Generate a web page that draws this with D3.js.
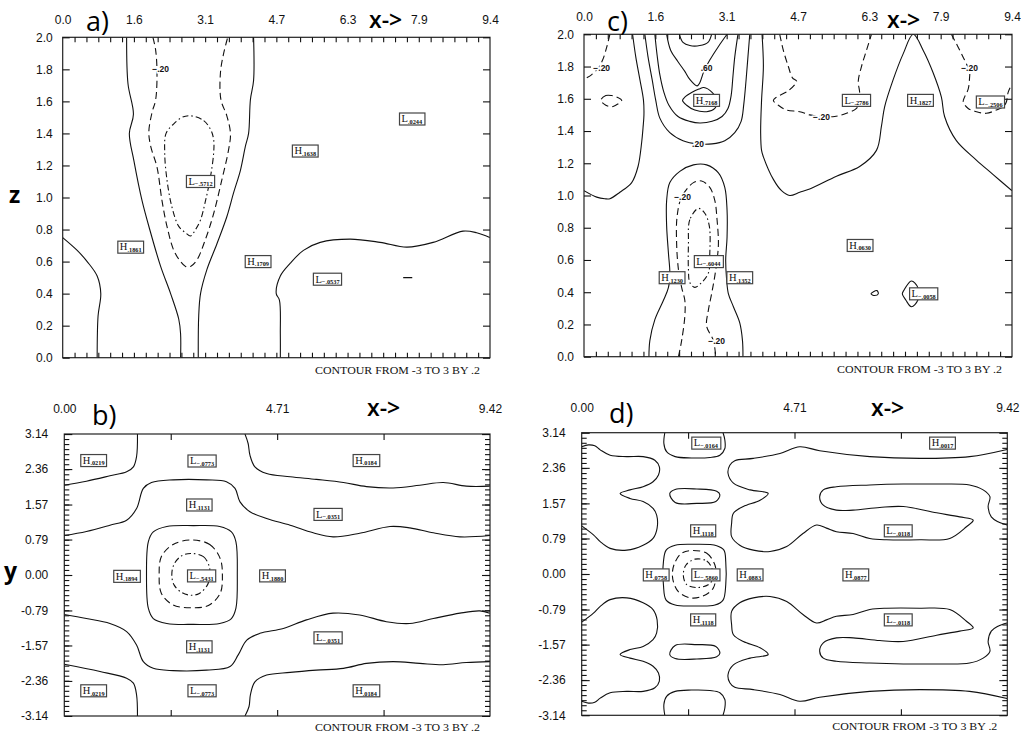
<!DOCTYPE html>
<html>
<head>
<meta charset="utf-8">
<script src="https://cdn.jsdelivr.net/npm/d3@7"></script>
<style>
  body { margin: 0; background: #fff; }
  svg { display: block; }
  .big { font-family: "Open Sans", sans-serif; fill: #000; }
  .footer { font-family: "Liberation Serif", serif; font-size: 10.5px; fill: #111; }
  .frame { fill: none; stroke: #222; stroke-width: 1.2; }
  .contour { fill: none; stroke: #111; stroke-width: 1.1; }
  .ext { font-family: "Liberation Serif", serif; fill: #111; }
  .ext-box { fill: #fff; stroke: #444; stroke-width: 1.2; }
  .line-label { font-family: "Liberation Sans", Arial, sans-serif; font-size: 8.5px; font-weight: bold; fill: #111;
                stroke: #fff; stroke-width: 3px; paint-order: stroke; }
</style>
</head>
<body>
<script>
"use strict";

/**
 * Four contour panels: a) and c) are x-z sections, b) and d) are x-y sections.
 * Contours are polylines, in data units.
 */

// ---- tick labels ----
const xzTickLabels = ["0.0", "1.6", "3.1", "4.7", "6.3", "7.9", "9.4"]
const xzTickValues = [0, 1.5708, 3.1416, 4.7124, 6.2832, 7.854, 9.4248]
const zTickLabels = ["0.0", "0.2", "0.4", "0.6", "0.8", "1.0", "1.2", "1.4", "1.6", "1.8", "2.0"]
const xyTickLabels = ["0.00", "4.71", "9.42"]
const xyTickValues = [0, 4.7124, 9.4248]
const yTickLabels = ["3.14", "2.36", "1.57", "0.79", "0.00", "-0.79", "-1.57", "-2.36", "-3.14"]
const footerText = "CONTOUR FROM -3 TO 3 BY .2"

// ---- panel a) ----
const panelAContours = [
  {level: 0, pts: [[0,0.75],[0.32,0.67],[0.54,0.60],[0.76,0.51],[0.84,0.40],[0.78,0.26],[0.76,0]]},
  {level: 0, pts: [[1.41,2.0],[1.44,1.71],[1.56,1.52],[1.47,1.40],[1.57,1.23],[1.75,0.98],[1.94,0.78],[2.16,0.57],[2.38,0.40],[2.56,0.24],[2.60,0.15],[2.60,0]]},
  {level: 0, pts: [[4.21,2.0],[4.21,1.73],[4.14,1.61],[4.10,1.40],[4.03,1.32],[3.92,1.17],[3.77,1.03],[3.62,0.88],[3.40,0.71],[3.18,0.55],[3.04,0.40],[3.00,0.26],[2.99,0]]},
  {level: 0, pts: [[4.80,0],[4.80,0.15],[4.78,0.36],[4.71,0.40],[4.80,0.51],[5.02,0.59],[5.31,0.67],[5.68,0.72],[6.34,0.74],[7.00,0.72],[7.59,0.69],[8.17,0.72],[8.83,0.79],[9.13,0.78],[9.42,0.75]]},
  {level: 0, pts: [[7.51,0.50],[7.71,0.50]]},
  {level: -0.2, pts: [[1.99,2.0],[2.05,1.92],[2.08,1.78],[2.05,1.61],[1.97,1.53],[1.90,1.41],[1.94,1.32],[2.08,1.19],[2.19,0.98],[2.30,0.82],[2.45,0.67],[2.60,0.60],[2.71,0.57],[2.82,0.57],[2.96,0.61],[3.15,0.74],[3.33,0.90],[3.51,1.11],[3.66,1.30],[3.70,1.40],[3.62,1.51],[3.49,1.61],[3.48,1.78],[3.55,1.90],[3.64,2.0]]},
  {level: -0.4, closed: true, pts: [[2.82,1.51],[3.11,1.48],[3.27,1.42],[3.33,1.36],[3.33,1.28],[3.26,1.13],[3.15,0.98],[3.04,0.86],[2.93,0.80],[2.82,0.76],[2.71,0.78],[2.56,0.82],[2.41,0.94],[2.30,1.11],[2.25,1.28],[2.28,1.40],[2.45,1.46],[2.63,1.50]]}
]
const panelAExtrema = [
  {kind: "L", val: ".0244", x: 7.70, y: 1.49},
  {kind: "H", val: ".1638", x: 5.35, y: 1.29},
  {kind: "L", val: "\u2212.5712", x: 3.04, y: 1.10},
  {kind: "H", val: ".1861", x: 1.50, y: 0.69},
  {kind: "H", val: ".1709", x: 4.31, y: 0.60},
  {kind: "L", val: "\u2212.0537", x: 5.84, y: 0.49}
]
const panelALineLabels = [{text: "\u2212.20", x: 2.16, y: 1.80}]

// ---- panel c) ----
const panelCContours = [
  {level: 0, pts: [[1.07,2.0],[1.14,1.86],[1.23,1.72],[1.31,1.59],[1.32,1.50],[1.30,1.42],[1.27,1.33],[1.19,1.18],[1.05,1.08],[0.79,1.02],[0.57,0.98],[0.46,0.98],[0.28,0.99],[0,1.03]]},
  {level: 0.2, pts: [[1.34,2.0],[1.41,1.86],[1.50,1.72],[1.58,1.59],[1.67,1.48],[1.89,1.39],[2.18,1.34],[2.51,1.32],[2.82,1.32],[3.10,1.34],[3.32,1.39],[3.46,1.46],[3.52,1.57],[3.57,1.72],[3.61,1.86],[3.65,2.0]]},
  {level: 0.4, pts: [[1.56,2.0],[1.61,1.87],[1.67,1.75],[1.76,1.64],[1.87,1.56],[2.07,1.49],[2.33,1.46],[2.55,1.45],[2.82,1.46],[3.04,1.49],[3.17,1.54],[3.24,1.62],[3.28,1.74],[3.32,1.86],[3.39,2.0]]},
  {level: 0.6, pts: [[1.82,2.0],[1.91,1.90],[2.07,1.83],[2.22,1.77],[2.33,1.72],[2.49,1.68],[2.55,1.70],[2.64,1.77],[2.77,1.84],[2.95,1.92],[3.15,2.0]]},
  {level: 0.6, closed: true, pts: [[2.53,1.66],[2.38,1.64],[2.22,1.61],[2.17,1.59],[2.26,1.56],[2.44,1.53],[2.70,1.52],[2.88,1.54],[2.93,1.59],[2.82,1.64],[2.64,1.67]]},
  {level: 0.8, pts: [[2.10,2.0],[2.18,1.95],[2.33,1.93],[2.55,1.93],[2.73,1.95],[2.81,2.0]]},
  {level: 0, pts: [[3.92,2.0],[3.95,1.80],[3.91,1.59],[3.89,1.39],[3.91,1.28],[3.95,1.24],[4.17,1.10],[4.35,1.03],[4.53,1.00],[4.75,1.02],[4.97,1.04],[5.56,1.12],[6.07,1.18],[6.44,1.28],[6.55,1.43],[6.62,1.55],[6.81,1.72],[7.03,1.88],[7.25,2.0],[7.47,1.90],[7.69,1.76],[7.87,1.61],[7.94,1.49],[8.20,1.34],[8.64,1.22],[9.01,1.13],[9.42,1.03]]},
  {level: -0.2, pts: [[0.57,2.0],[0.50,1.92],[0.41,1.84],[0.31,1.79],[0.17,1.75],[0,1.72]]},
  {level: -0.2, closed: true, pts: [[0.37,1.59],[0.48,1.62],[0.61,1.62],[0.73,1.61],[0.83,1.59],[0.70,1.56],[0.61,1.55],[0.48,1.56]]},
  {level: -0.2, pts: [[4.31,2.0],[4.39,1.90],[4.50,1.80],[4.59,1.73],[4.68,1.71],[4.50,1.65],[4.24,1.61],[4.17,1.59],[4.28,1.56],[4.46,1.53],[4.75,1.52],[4.97,1.50],[5.23,1.49],[5.52,1.49],[5.78,1.51],[6.00,1.54],[6.07,1.59],[6.07,1.64],[6.04,1.71],[6.11,1.80],[6.22,1.90],[6.33,2.0]]},
  {level: -0.2, pts: [[8.09,2.0],[8.24,1.92],[8.38,1.84],[8.49,1.77],[8.49,1.73],[8.46,1.66],[8.38,1.61],[8.35,1.58],[8.46,1.54],[8.64,1.52],[8.86,1.51],[9.08,1.53],[9.23,1.55],[9.30,1.58],[9.34,1.64],[9.42,1.69]]},
  {level: 0, pts: [[1.43,0],[1.45,0.10],[1.56,0.23],[1.75,0.35],[1.86,0.43],[1.89,0.52],[1.86,0.64],[1.82,0.81],[1.82,0.97],[1.89,1.08],[2.11,1.15],[2.41,1.19],[2.70,1.19],[2.96,1.14],[3.10,1.05],[3.15,0.91],[3.15,0.74],[3.12,0.60],[3.14,0.48],[3.18,0.39],[3.29,0.31],[3.43,0.21],[3.49,0.10],[3.50,0]]},
  {level: -0.2, pts: [[2.08,0],[2.15,0.10],[2.22,0.25],[2.22,0.35],[2.15,0.43],[2.08,0.54],[2.04,0.70],[2.05,0.87],[2.15,0.99],[2.41,1.08],[2.59,1.09],[2.77,1.05],[2.88,0.97],[2.93,0.85],[2.96,0.70],[2.93,0.60],[2.88,0.50],[2.81,0.39],[2.74,0.29],[2.70,0.19],[2.85,0.10],[2.90,0]]},
  {level: -0.4, closed: true, pts: [[2.52,0.92],[2.33,0.85],[2.30,0.70],[2.30,0.54],[2.33,0.46],[2.44,0.43],[2.59,0.46],[2.74,0.52],[2.77,0.64],[2.76,0.81],[2.66,0.89]]},
  {level: 0, closed: true, pts: [[7.21,0.47],[7.04,0.41],[7.01,0.39],[7.09,0.35],[7.21,0.31],[7.35,0.35],[7.35,0.43]]},
  {level: 0, closed: true, pts: [[6.32,0.39],[6.45,0.41],[6.48,0.39],[6.40,0.38]]}
]
const panelCExtrema = [
  {kind: "H", val: ".7168", x: 2.70, y: 1.59},
  {kind: "L", val: "\u2212.2786", x: 6.00, y: 1.59},
  {kind: "H", val: ".1827", x: 7.41, y: 1.59},
  {kind: "L", val: "\u2212.2506", x: 8.95, y: 1.58},
  {kind: "L", val: "\u2212.6044", x: 2.74, y: 0.59},
  {kind: "H", val: ".1230", x: 1.94, y: 0.49},
  {kind: "H", val: ".1352", x: 3.43, y: 0.49},
  {kind: "H", val: ".0630", x: 6.08, y: 0.69},
  {kind: "L", val: "\u2212.0058", x: 7.48, y: 0.39}
]
const panelCLineLabels = [
  {text: "\u2212.20", x: 0.39, y: 1.79},
  {text: ".60", x: 2.70, y: 1.79},
  {text: ".20", x: 2.51, y: 1.32},
  {text: "\u2212.20", x: 5.23, y: 1.49},
  {text: "\u2212.20", x: 8.49, y: 1.79},
  {text: "\u2212.20", x: 2.17, y: 0.99},
  {text: "\u2212.20", x: 2.92, y: 0.10}
]

// ---- panel b) ----
const panelBContours = [
  {level: 0, pts: [[1.62,3.14],[1.60,2.64],[1.53,2.41],[1.38,2.30],[1.01,2.21],[0.49,2.09],[0,2.0]]},
  {level: 0, pts: [[4.00,3.14],[4.07,2.93],[4.11,2.67],[4.22,2.41],[4.48,2.26],[5.00,2.19],[5.58,2.13],[6.18,2.06],[6.69,1.97],[7.28,1.94],[7.87,2.00],[8.39,2.06],[8.90,1.98],[9.42,1.98]]},
  {level: 0, pts: [[0,0.88],[0.49,0.97],[1.01,1.11],[1.38,1.22],[1.60,1.48],[1.75,1.93],[1.93,2.06],[2.41,2.12],[3.15,2.12],[3.59,2.08],[3.78,1.93],[3.89,1.63],[4.11,1.41],[4.48,1.26],[5.00,1.11],[5.51,0.94],[5.95,0.85],[6.54,0.93],[7.21,1.08],[7.65,1.05],[8.17,0.94],[8.76,0.85],[9.42,0.88]]},
  {level: 0, pts: [[0,-0.88],[0.49,-0.97],[1.01,-1.08],[1.38,-1.26],[1.60,-1.56],[1.75,-1.93],[1.97,-2.08],[2.41,-2.13],[3.15,-2.12],[3.67,-2.04],[3.85,-1.78],[4.04,-1.45],[4.33,-1.30],[4.85,-1.19],[5.36,-1.00],[5.95,-0.85],[6.54,-0.89],[7.13,-1.04],[7.65,-1.08],[8.17,-0.97],[8.76,-0.85],[9.20,-0.80],[9.42,-0.85]]},
  {level: 0, pts: [[1.62,-3.14],[1.60,-2.67],[1.53,-2.41],[1.38,-2.30],[0.79,-2.15],[0,-1.99]]},
  {level: 0, pts: [[4.00,-3.14],[4.09,-2.93],[4.12,-2.67],[4.22,-2.38],[4.48,-2.23],[5.00,-2.17],[5.58,-2.12],[6.18,-2.08],[6.69,-1.97],[7.28,-1.93],[7.87,-1.97],[8.39,-2.00],[8.90,-1.95],[9.42,-1.93]]},
  {level: 0, closed: true, pts: [[2.86,1.10],[3.44,1.08],[3.70,0.96],[3.80,0.74],[3.83,0],[3.80,-0.74],[3.70,-0.97],[3.44,-1.08],[2.86,-1.10],[2.27,-1.08],[1.97,-0.97],[1.86,-0.74],[1.82,0],[1.86,0.74],[1.97,0.96],[2.27,1.08]]},
  {level: -0.2, closed: true, pts: [[2.82,0.78],[3.22,0.68],[3.45,0.37],[3.50,0],[3.45,-0.41],[3.19,-0.68],[2.82,-0.73],[2.41,-0.67],[2.15,-0.41],[2.10,0],[2.15,0.41],[2.41,0.68]]},
  {level: -0.4, closed: true, pts: [[2.80,0.48],[3.08,0.41],[3.21,0.19],[3.22,0],[3.17,-0.22],[2.99,-0.41],[2.80,-0.45],[2.60,-0.39],[2.43,-0.22],[2.38,0],[2.43,0.24],[2.60,0.43]]}
]
const panelBExtrema = [
  {kind: "H", val: ".0219", x: 0.65, y: 2.55},
  {kind: "L", val: "\u2212.0773", x: 3.05, y: 2.54},
  {kind: "H", val: ".0184", x: 6.68, y: 2.55},
  {kind: "H", val: ".1131", x: 2.99, y: 1.56},
  {kind: "L", val: "\u2212.0351", x: 5.84, y: 1.35},
  {kind: "H", val: ".1894", x: 1.38, y: -0.03},
  {kind: "L", val: "\u2212.5431", x: 3.04, y: -0.02},
  {kind: "H", val: ".1880", x: 4.61, y: -0.02},
  {kind: "L", val: "\u2212.0351", x: 5.84, y: -1.40},
  {kind: "H", val: ".1131", x: 2.99, y: -1.60},
  {kind: "H", val: ".0219", x: 0.65, y: -2.58},
  {kind: "L", val: "\u2212.0773", x: 3.05, y: -2.58},
  {kind: "H", val: ".0184", x: 6.68, y: -2.58}
]

// ---- panel d) ----
const panelDContours = [
  {level: 0, pts: [[0,2.83],[0.15,2.87],[0.29,2.85],[0.41,2.76],[0.63,2.64],[1.00,2.61],[1.36,2.61],[1.62,2.53],[1.72,2.38],[1.70,2.20],[1.58,2.05],[1.36,1.94],[1.07,1.87],[0.85,1.79],[1.07,1.68],[1.36,1.61],[1.58,1.46],[1.66,1.31],[1.67,1.02],[1.58,0.79],[1.36,0.64],[1.00,0.53],[0.63,0.57],[0.41,0.72],[0.26,0.87],[0,1.07]]},
  {level: 0, pts: [[0,-2.83],[0.15,-2.87],[0.29,-2.85],[0.41,-2.76],[0.63,-2.64],[1.00,-2.61],[1.36,-2.61],[1.62,-2.53],[1.72,-2.38],[1.70,-2.20],[1.58,-2.05],[1.36,-1.94],[1.07,-1.87],[0.85,-1.79],[1.07,-1.68],[1.36,-1.61],[1.58,-1.46],[1.66,-1.31],[1.67,-1.02],[1.58,-0.79],[1.36,-0.64],[1.00,-0.53],[0.63,-0.57],[0.41,-0.72],[0.26,-0.87],[0,-1.07]]},
  {level: 0, pts: [[1.84,3.14],[1.82,2.90],[1.88,2.72],[2.07,2.61],[2.43,2.58],[2.84,2.59],[3.06,2.64],[3.17,2.79],[3.17,2.98],[3.13,3.14]]},
  {level: 0, pts: [[1.84,-3.14],[1.82,-2.90],[1.88,-2.72],[2.07,-2.61],[2.43,-2.58],[2.84,-2.59],[3.06,-2.64],[3.17,-2.79],[3.17,-2.98],[3.13,-3.14]]},
  {level: 0, closed: true, pts: [[1.95,1.79],[2.07,1.88],[2.55,1.89],[2.99,1.84],[3.06,1.76],[2.97,1.61],[2.55,1.57],[2.07,1.59]]},
  {level: 0, closed: true, pts: [[1.95,-1.79],[2.07,-1.88],[2.55,-1.89],[2.99,-1.84],[3.06,-1.76],[2.97,-1.61],[2.55,-1.57],[2.07,-1.59]]},
  {level: 0, closed: true, pts: [[2.51,0.66],[2.99,0.63],[3.15,0.53],[3.19,0.27],[3.19,-0.24],[3.13,-0.58],[2.95,-0.69],[2.51,-0.71],[2.07,-0.69],[1.87,-0.58],[1.81,-0.24],[1.81,0.27],[1.87,0.53],[2.07,0.64]]},
  {level: -0.2, closed: true, pts: [[2.40,0.52],[2.77,0.46],[2.95,0.20],[2.97,-0.02],[2.91,-0.32],[2.66,-0.50],[2.40,-0.53],[2.14,-0.39],[2.03,-0.17],[2.01,0.05],[2.07,0.27],[2.21,0.46]]},
  {level: -0.4, closed: true, pts: [[2.51,0.33],[2.77,0.29],[2.88,0.13],[2.91,-0.10],[2.80,-0.24],[2.55,-0.30],[2.32,-0.23],[2.25,-0.02],[2.31,0.20]]},
  {level: 0, pts: [[9.42,2.77],[8.59,2.61],[7.49,2.57],[6.38,2.61],[5.27,2.74],[4.83,2.83],[4.39,2.68],[3.80,2.57],[3.39,2.52],[3.28,2.42],[3.24,2.24],[3.36,2.02],[3.73,1.87],[4.13,1.79],[3.95,1.64],[3.58,1.50],[3.36,1.35],[3.32,1.13],[3.32,0.83],[3.50,0.64],[3.80,0.53],[4.17,0.50],[4.54,0.61],[4.90,0.90],[5.20,1.09],[5.42,1.02],[5.64,0.94],[6.01,0.90],[6.38,0.79],[6.75,0.76],[7.49,0.76],[8.15,0.79],[8.52,1.05],[8.67,1.20],[8.37,1.27],[7.86,1.36],[7.12,1.50],[6.60,1.48],[6.01,1.42],[5.64,1.42],[5.35,1.53],[5.27,1.72],[5.35,1.87],[5.64,1.94],[6.38,1.98],[7.12,2.00],[7.86,2.00],[8.59,1.98],[8.89,1.87],[9.04,1.72],[9.00,1.50],[9.07,1.27],[9.22,1.16],[9.42,1.09]]},
  {level: 0, pts: [[9.42,-2.77],[8.59,-2.61],[7.49,-2.57],[6.38,-2.61],[5.27,-2.74],[4.83,-2.83],[4.39,-2.68],[3.80,-2.57],[3.39,-2.52],[3.28,-2.42],[3.24,-2.24],[3.36,-2.02],[3.73,-1.87],[4.13,-1.79],[3.95,-1.64],[3.58,-1.50],[3.36,-1.35],[3.32,-1.13],[3.32,-0.83],[3.50,-0.64],[3.80,-0.53],[4.17,-0.50],[4.54,-0.61],[4.90,-0.90],[5.20,-1.09],[5.42,-1.02],[5.64,-0.94],[6.01,-0.90],[6.38,-0.79],[6.75,-0.76],[7.49,-0.76],[8.15,-0.79],[8.52,-1.05],[8.67,-1.20],[8.37,-1.27],[7.86,-1.36],[7.12,-1.50],[6.60,-1.48],[6.01,-1.42],[5.64,-1.42],[5.35,-1.53],[5.27,-1.72],[5.35,-1.87],[5.64,-1.94],[6.38,-1.98],[7.12,-2.00],[7.86,-2.00],[8.59,-1.98],[8.89,-1.87],[9.04,-1.72],[9.00,-1.50],[9.07,-1.27],[9.22,-1.16],[9.42,-1.09]]}
]
const panelDExtrema = [
  {kind: "L", val: "\u2212.0164", x: 2.75, y: 2.91},
  {kind: "H", val: ".0017", x: 7.99, y: 2.91},
  {kind: "H", val: ".1118", x: 2.69, y: 0.96},
  {kind: "L", val: "\u2212.0118", x: 7.01, y: 0.96},
  {kind: "H", val: ".0758", x: 1.65, y: -0.02},
  {kind: "L", val: "\u2212.5860", x: 2.75, y: -0.02},
  {kind: "H", val: ".0883", x: 3.73, y: -0.02},
  {kind: "H", val: ".0877", x: 6.07, y: -0.02},
  {kind: "H", val: ".1118", x: 2.69, y: -1.02},
  {kind: "L", val: "\u2212.0118", x: 7.01, y: -1.02}
]

// ---- drawing ----
const svg = d3.select("body").append("svg")
  .attr("width", 1021)
  .attr("height", 733)

const X_MAX = 3 * Math.PI

function dashFor(level) {
  if (level >= 0) return null
  if (level > -0.3) return "7,4"
  return "6,3,1.5,3"
}

// places a d3 axis, drops its baseline and restyles its ticks / labels
function addAxis(g, axis, tx, ty) {
  const ag = g.append("g")
    .attr("transform", `translate(${tx},${ty})`)
    .call(axis)
  ag.select(".domain").remove()
  ag.attr("font-family", "'Liberation Sans', Arial, sans-serif").attr("font-size", 12)
  ag.selectAll("line").attr("stroke", "#111").attr("stroke-width", 1.1)
  ag.selectAll("text").attr("fill", "#111")
  return ag
}

function drawPanel(cfg) {
  const g = svg.append("g")
  const xs = d3.scaleLinear().domain([0, X_MAX]).range([cfg.left, cfg.right])
  const ys = d3.scaleLinear().domain(cfg.ydom).range([cfg.bottom, cfg.top])

  const clipId = "clip-" + cfg.name
  svg.append("clipPath").attr("id", clipId)
    .append("rect")
    .attr("x", cfg.left).attr("y", cfg.top)
    .attr("width", cfg.right - cfg.left).attr("height", cfg.bottom - cfg.top)

  // contours
  const lineOpen = d3.line().x(d => xs(d[0])).y(d => ys(d[1])).curve(d3.curveCatmullRom.alpha(0.5))
  const lineClosed = d3.line().x(d => xs(d[0])).y(d => ys(d[1])).curve(d3.curveCatmullRomClosed.alpha(0.5))
  g.append("g").attr("clip-path", `url(#${clipId})`)
    .selectAll("path")
    .data(cfg.contours)
    .enter()
    .append("path")
    .attr("class", "contour")
    .attr("d", c => c.closed ? lineClosed(c.pts) : lineOpen(c.pts))
    .attr("stroke-dasharray", c => dashFor(c.level))

  // frame
  g.append("rect").attr("class", "frame")
    .attr("x", cfg.left).attr("y", cfg.top)
    .attr("width", cfg.right - cfg.left).attr("height", cfg.bottom - cfg.top)

  // inward ticks on all four sides, labels on top and left
  if (cfg.kind === "xz") {
    const minorX = d3.range(1, 36).map(i => i * Math.PI / 12)
    const zVals = zTickLabels.map(Number)
    addAxis(g, d3.axisTop(xs).tickValues(minorX).tickSize(-5).tickFormat(""), 0, cfg.top)
    addAxis(g, d3.axisBottom(xs).tickValues(minorX).tickSize(-5).tickFormat(""), 0, cfg.bottom)
    addAxis(g, d3.axisLeft(ys).tickValues(zVals).tickSize(-7).tickFormat(""), cfg.left, 0)
    addAxis(g, d3.axisRight(ys).tickValues(zVals).tickSize(-7).tickFormat(""), cfg.right, 0)
    addAxis(g, d3.axisTop(xs).tickValues(xzTickValues).tickSize(0).tickPadding(13)
      .tickFormat((_, i) => xzTickLabels[i]), 0, cfg.top)
    addAxis(g, d3.axisLeft(ys).tickValues(zVals).tickSize(0).tickPadding(10)
      .tickFormat((_, i) => zTickLabels[i]), cfg.left, 0)
  } else {
    const quarterX = [0.25, 0.5, 0.75].map(f => f * X_MAX)
    const minorY = d3.range(1, 56).map(i => -Math.PI + i * 2 * Math.PI / 56)
    const yVals = yTickLabels.map(Number)
    addAxis(g, d3.axisTop(xs).tickValues(quarterX).tickSize(-6).tickFormat(""), 0, cfg.top)
    addAxis(g, d3.axisBottom(xs).tickValues(quarterX).tickSize(-6).tickFormat(""), 0, cfg.bottom)
    addAxis(g, d3.axisLeft(ys).tickValues(minorY).tickSize(-5).tickFormat(""), cfg.left, 0)
    addAxis(g, d3.axisRight(ys).tickValues(minorY).tickSize(-5).tickFormat(""), cfg.right, 0)
    addAxis(g, d3.axisLeft(ys).tickValues(yVals).tickSize(-8).tickFormat(""), cfg.left, 0)
    addAxis(g, d3.axisRight(ys).tickValues(yVals).tickSize(-8).tickFormat(""), cfg.right, 0)
    addAxis(g, d3.axisTop(xs).tickValues(xyTickValues).tickSize(0).tickPadding(21)
      .tickFormat((_, i) => xyTickLabels[i]), 0, cfg.top)
    addAxis(g, d3.axisLeft(ys).tickValues(yVals).tickSize(0).tickPadding(16)
      .tickFormat((_, i) => yTickLabels[i]), cfg.left, 0)
  }

  // contour value labels along lines
  g.selectAll(".line-label").data(cfg.lineLabels || []).enter().append("text")
    .attr("class", "line-label").attr("text-anchor", "middle")
    .attr("x", d => xs(d.x)).attr("y", d => ys(d.y) + 3)
    .text(d => d.text)

  // H / L boxes
  cfg.extrema.forEach(e => {
    const lg = g.append("g").attr("transform", `translate(${xs(e.x)},${ys(e.y)})`)
    const rect = lg.append("rect").attr("class", "ext-box")
    const t = lg.append("text").attr("class", "ext").attr("text-anchor", "middle").attr("y", 3.3)
    t.append("tspan").attr("font-size", 10.5).text(e.kind)
    t.append("tspan").attr("font-size", 6.3).attr("font-weight", "bold").attr("dy", 1.6).text(e.val)
    const bb = t.node().getBBox()
    rect.attr("x", bb.x - 2).attr("y", -6).attr("width", bb.width + 4).attr("height", 12)
  })

  // titles
  svg.append("text").attr("class", "big").attr("font-size", 27)
    .attr("x", cfg.titleX).attr("y", cfg.titleY).text(cfg.title)
  svg.append("text").attr("class", "big").attr("font-size", 23).attr("font-weight", 600)
    .attr("x", cfg.arrowX).attr("y", cfg.arrowY).text("x->")

  svg.append("text").attr("class", "footer").attr("text-anchor", "end")
    .attr("x", cfg.right - 10).attr("y", cfg.bottom + cfg.footerGap)
    .attr("textLength", 165).attr("lengthAdjust", "spacingAndGlyphs")
    .text(footerText)
}

drawPanel({name: "a", kind: "xz", left: 62.7, right: 490, top: 37.3, bottom: 357.7, ydom: [0, 2],
  contours: panelAContours, extrema: panelAExtrema, lineLabels: panelALineLabels,
  title: "a)", titleX: 86, titleY: 31, arrowX: 369, arrowY: 28, footerGap: 16})
drawPanel({name: "c", kind: "xz", left: 584, right: 1012, top: 34.3, bottom: 356.7, ydom: [0, 2],
  contours: panelCContours, extrema: panelCExtrema, lineLabels: panelCLineLabels,
  title: "c)", titleX: 607, titleY: 31, arrowX: 887, arrowY: 28, footerGap: 16})
drawPanel({name: "b", kind: "xy", left: 64.3, right: 490, top: 434, bottom: 716, ydom: [-Math.PI, Math.PI],
  contours: panelBContours, extrema: panelBExtrema, lineLabels: [],
  title: "b)", titleX: 92, titleY: 425, arrowX: 367, arrowY: 416, footerGap: 14.5})
drawPanel({name: "d", kind: "xy", left: 581.7, right: 1007.3, top: 432.7, bottom: 715.3, ydom: [-Math.PI, Math.PI],
  contours: panelDContours, extrema: panelDExtrema, lineLabels: [],
  title: "d)", titleX: 609, titleY: 423, arrowX: 871, arrowY: 416, footerGap: 14.5})

// axis names
svg.append("text").attr("class", "big").attr("font-size", 23).attr("font-weight", 700)
  .attr("x", 9).attr("y", 203).text("z")
svg.append("text").attr("class", "big").attr("font-size", 23).attr("font-weight", 700)
  .attr("x", 4).attr("y", 579).text("y")
</script>
</body>
</html>
